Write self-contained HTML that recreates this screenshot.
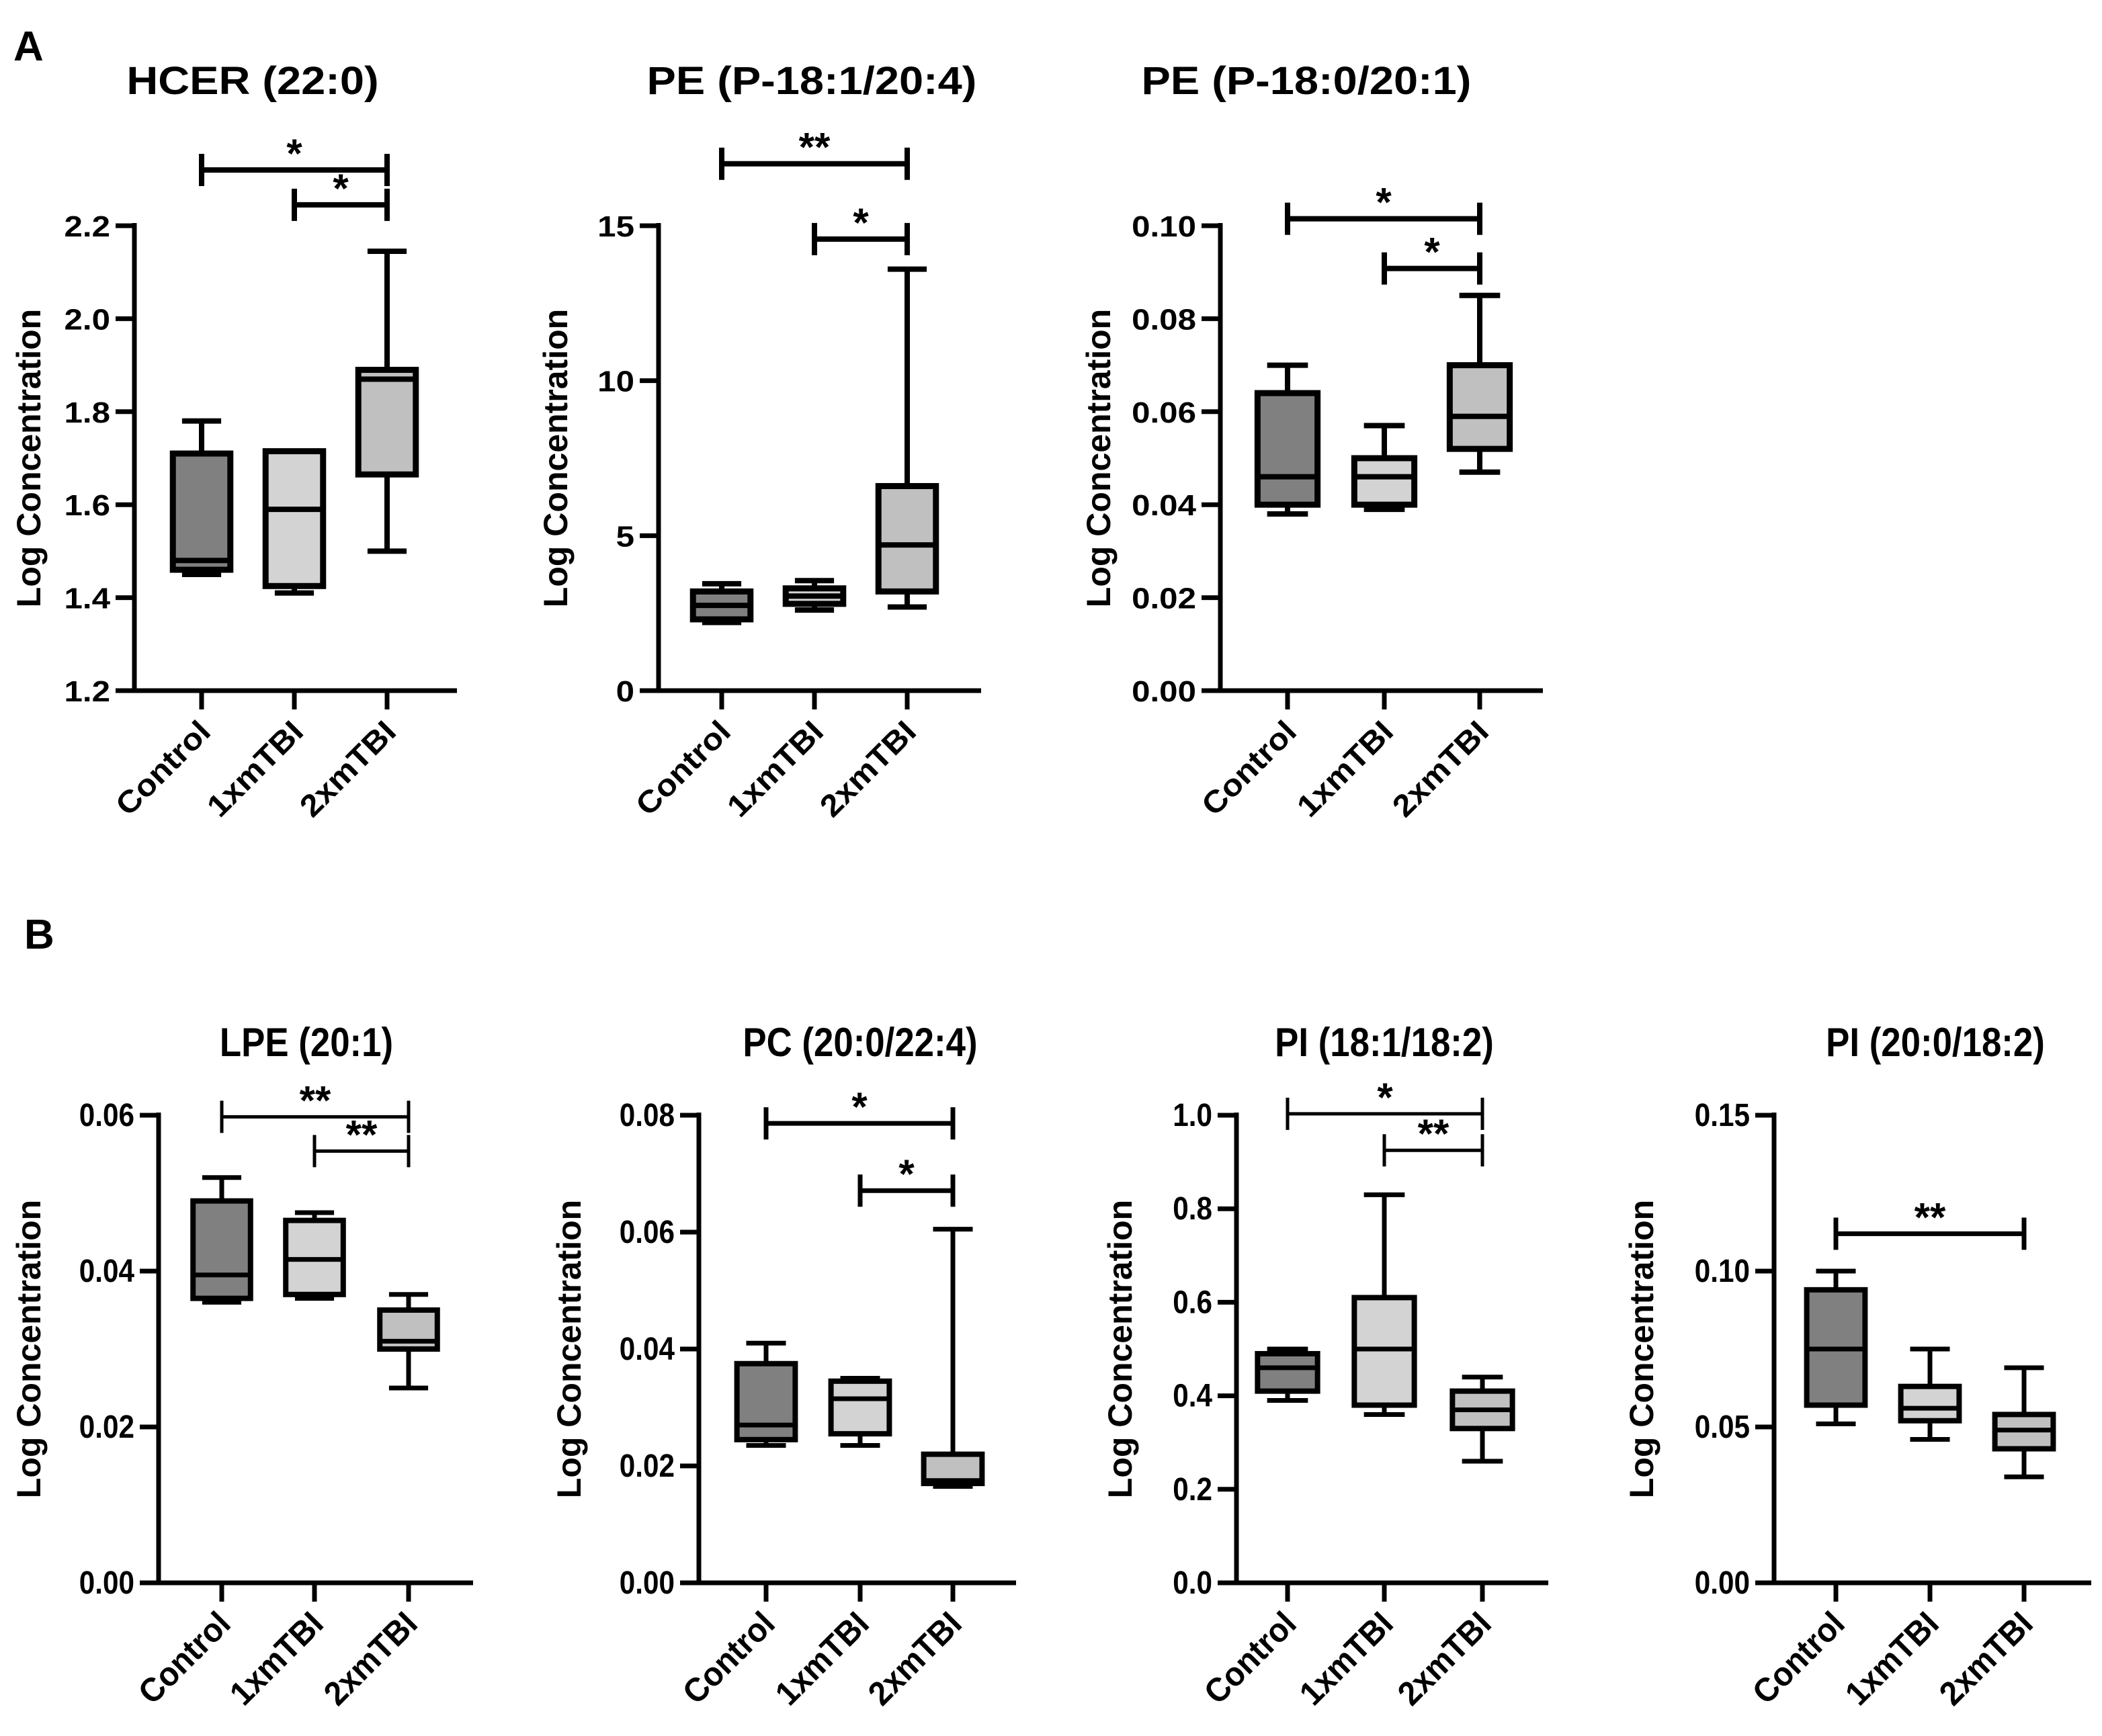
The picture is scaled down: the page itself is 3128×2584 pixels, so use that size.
<!DOCTYPE html>
<html><head><meta charset="utf-8"><style>
html,body{margin:0;padding:0;background:#fff}
svg{display:block}
text{font-family:"Liberation Sans",sans-serif;font-weight:bold;fill:#000}
</style></head><body>
<svg id="fig" width="3128" height="2584" viewBox="0 0 1564 1292" xmlns="http://www.w3.org/2000/svg">
<text x="10" y="45" font-size="31">A</text>
<text x="18" y="706" font-size="31">B</text>
</svg>
<script>
const categories = ['Control','1xmTBI','2xmTBI'];
const fills = ['#808080','#d3d3d3','#c0c0c0'];
// five-number summaries [min, q1, median, q3, max]
const hcerData = [[1.45,1.46,1.48,1.71,1.78],[1.41,1.425,1.59,1.715,1.715],[1.50,1.665,1.87,1.89,2.145]];
const pe1Data = [[2.2,2.3,2.75,3.2,3.45],[2.6,2.8,3.05,3.3,3.55],[2.7,3.2,4.7,6.6,13.6]];
const pe2Data = [[0.038,0.040,0.046,0.064,0.070],[0.039,0.040,0.046,0.050,0.057],[0.047,0.052,0.059,0.070,0.085]];
const lpeData = [[0.036,0.0365,0.0395,0.049,0.052],[0.0365,0.037,0.0415,0.0465,0.0475],[0.025,0.030,0.031,0.035,0.037]];
const pcData = [[0.0235,0.0245,0.027,0.0375,0.041],[0.0235,0.0255,0.0315,0.0345,0.035],[0.0165,0.017,0.0175,0.022,0.0605]];
const pi1Data = [[0.39,0.41,0.46,0.49,0.50],[0.36,0.38,0.50,0.61,0.83],[0.26,0.33,0.37,0.41,0.44]];
const pi2Data = [[0.051,0.057,0.075,0.094,0.100],[0.046,0.052,0.056,0.063,0.075],[0.034,0.043,0.049,0.054,0.069]];
// y ticks
const hcerTicks = ['1.2','1.4','1.6','1.8','2.0','2.2'];
const pe1Ticks = ['0','5','10','15'];
const pe2Ticks = ['0.00','0.02','0.04','0.06','0.08','0.10'];
const lpeTicks = ['0.00','0.02','0.04','0.06'];
const pcTicks = ['0.00','0.02','0.04','0.06','0.08'];
const pi1Ticks = ['0.0','0.2','0.4','0.6','0.8','1.0'];
const pi2Ticks = ['0.00','0.05','0.10','0.15'];
// significance bars [fromIdx, toIdx, yValue, label]
const hcerSig = [[0,2,2.32,'*'],[1,2,2.245,'*']];
const pe1Sig = [[0,2,17.0,'**'],[1,2,14.57,'*']];
const pe2Sig = [[0,2,0.1015,'*'],[1,2,0.0908,'*']];
const lpeSig = [[0,2,0.0598,'**'],[1,2,0.0554,'**']];
const pcSig = [[0,2,0.0786,'*'],[1,2,0.0671,'*']];
const pi1Sig = [[0,2,1.003,'*'],[1,2,0.925,'**']];
const pi2Sig = [[0,2,0.112,'**']];

const NS='http://www.w3.org/2000/svg';
const svg=document.getElementById('fig');
function mk(tag,attrs,parent){const e=document.createElementNS(NS,tag);for(const k in attrs)e.setAttribute(k,attrs[k]);(parent||svg).appendChild(e);return e;}
function sx(el,x,f){el.setAttribute('transform',`translate(${x},0) scale(${f},1) translate(${-x},0)`);}

const panels=[
 {id:'hcer',title:'HCER (22:0)',data:hcerData,ticks:hcerTicks,sig:hcerSig,ax:100,top:168,bot:514,xend:340,cx:[150,219,288],ylx:30,tx:188,ty:70,sw:4,sigw:4,narrow:false},
 {id:'pe-p18-1',title:'PE (P-18:1/20:4)',data:pe1Data,ticks:pe1Ticks,sig:pe1Sig,ax:490,top:168,bot:514,xend:730,cx:[537,606,675],ylx:422,tx:604,ty:70,sw:4,sigw:4,narrow:false},
 {id:'pe-p18-0',title:'PE (P-18:0/20:1)',data:pe2Data,ticks:pe2Ticks,sig:pe2Sig,ax:908,top:168,bot:514,xend:1148,cx:[958,1030,1101],ylx:826,tx:972,ty:70,sw:4,sigw:4,narrow:false},
 {id:'lpe',title:'LPE (20:1)',data:lpeData,ticks:lpeTicks,sig:lpeSig,ax:118,top:830,bot:1178,xend:352,cx:[165,234,304],ylx:30,tx:228,ty:786,sw:3.5,sigw:2.5,narrow:true},
 {id:'pc',title:'PC (20:0/22:4)',data:pcData,ticks:pcTicks,sig:pcSig,ax:520,top:830,bot:1178,xend:756,cx:[570,640,709],ylx:432,tx:640,ty:786,sw:3.5,sigw:3.5,narrow:true},
 {id:'pi-18-1',title:'PI (18:1/18:2)',data:pi1Data,ticks:pi1Ticks,sig:pi1Sig,ax:920,top:830,bot:1178,xend:1152,cx:[958,1030,1103],ylx:842,tx:1030,ty:786,sw:3.5,sigw:2.5,narrow:true},
 {id:'pi-20-0',title:'PI (20:0/18:2)',data:pi2Data,ticks:pi2Ticks,sig:pi2Sig,ax:1320,top:830,bot:1178,xend:1556,cx:[1366,1436,1506],ylx:1230,tx:1440,ty:786,sw:3.5,sigw:3.5,narrow:true}
];

panels.forEach(p=>{
  const g=mk('g',{});
  
  
  const lo=parseFloat(p.ticks[0]),hi=parseFloat(p.ticks[p.ticks.length-1]);
  const y=v=>p.bot-(v-lo)/(hi-lo)*(p.bot-p.top);
  const fs=p.narrow?24:22;
  const xf=p.narrow?0.88:1.12;
  const t=mk('text',{x:p.tx,y:p.ty,'font-size':p.narrow?30:29,'text-anchor':'middle'},g);
  sx(t,p.tx,xf);
  t.textContent=p.title;
  
  
  const ym=(p.top+p.bot)/2;
  const yl=mk('text',{x:p.ylx,y:ym,'font-size':25,'text-anchor':'middle',transform:`rotate(-90 ${p.ylx} ${ym}) translate(0,0)`},g);
  yl.textContent='Log Concentration';
  
  
  const ya=mk('line',{x1:p.ax,y1:p.top-2,x2:p.ax,y2:p.bot,stroke:'#000','stroke-width':3.5},g);
  
  
  const xa=mk('line',{x1:p.ax-14,y1:p.bot,x2:p.xend,y2:p.bot,stroke:'#000','stroke-width':3.5},g);
  
  
  p.ticks.forEach(tk=>{
    const v=parseFloat(tk),yy=y(v);
    mk('line',{x1:p.ax-14,y1:yy,x2:p.ax,y2:yy,stroke:'#000','stroke-width':3.5},g);
    const tl=mk('text',{x:p.ax-18,y:yy+8,'font-size':fs,'text-anchor':'end'},g);
    sx(tl,p.ax-18,xf);
    tl.textContent=tk;
    
    
  });
  const hw=(p.cx[1]-p.cx[0])*0.31, cap=hw*0.68;
  p.data.forEach((d,i)=>{
    const cx=p.cx[i];
    mk('line',{x1:cx,y1:p.bot,x2:cx,y2:p.bot+14,stroke:'#000','stroke-width':3.5},g);
    const lx=cx+8,ly=p.bot+32;
    const ct=mk('text',{x:lx,y:ly,'font-size':fs+1,'text-anchor':'end',transform:`rotate(-45 ${lx} ${ly}) translate(${lx},0) scale(${p.narrow?0.95:1.08},1) translate(${-lx},0)`},g);
    ct.textContent=categories[i];
    
    
    const bg=mk('g',{},g);
    
    
    mk('line',{x1:cx,y1:y(d[0]),x2:cx,y2:y(d[4]),stroke:'#000','stroke-width':p.sw},bg);
    mk('line',{x1:cx-cap,y1:y(d[0]),x2:cx+cap,y2:y(d[0]),stroke:'#000','stroke-width':p.sw},bg);
    mk('line',{x1:cx-cap,y1:y(d[4]),x2:cx+cap,y2:y(d[4]),stroke:'#000','stroke-width':p.sw},bg);
    mk('rect',{x:cx-hw,y:y(d[3]),width:2*hw,height:Math.max(0.5,y(d[1])-y(d[3])),fill:fills[i],stroke:'#000','stroke-width':p.sw+0.5},bg);
    mk('line',{x1:cx-hw,y1:y(d[2]),x2:cx+hw,y2:y(d[2]),stroke:'#000','stroke-width':p.sw},bg);
  });
  p.sig.forEach(s=>{
    const sg=mk('g',{},g);
    
    
    const x1=p.cx[s[0]],x2=p.cx[s[1]],yy=y(s[2]);
    mk('line',{x1:x1,y1:yy,x2:x2,y2:yy,stroke:'#000','stroke-width':p.sigw},sg);
    mk('line',{x1:x1,y1:yy-12,x2:x1,y2:yy+12,stroke:'#000','stroke-width':p.sigw},sg);
    mk('line',{x1:x2,y1:yy-12,x2:x2,y2:yy+12,stroke:'#000','stroke-width':p.sigw},sg);
    const st=mk('text',{x:(x1+x2)/2,y:yy-2,'font-size':30,'text-anchor':'middle'},sg);
    st.textContent=s[3];
  });
});
</script>
</body></html>
